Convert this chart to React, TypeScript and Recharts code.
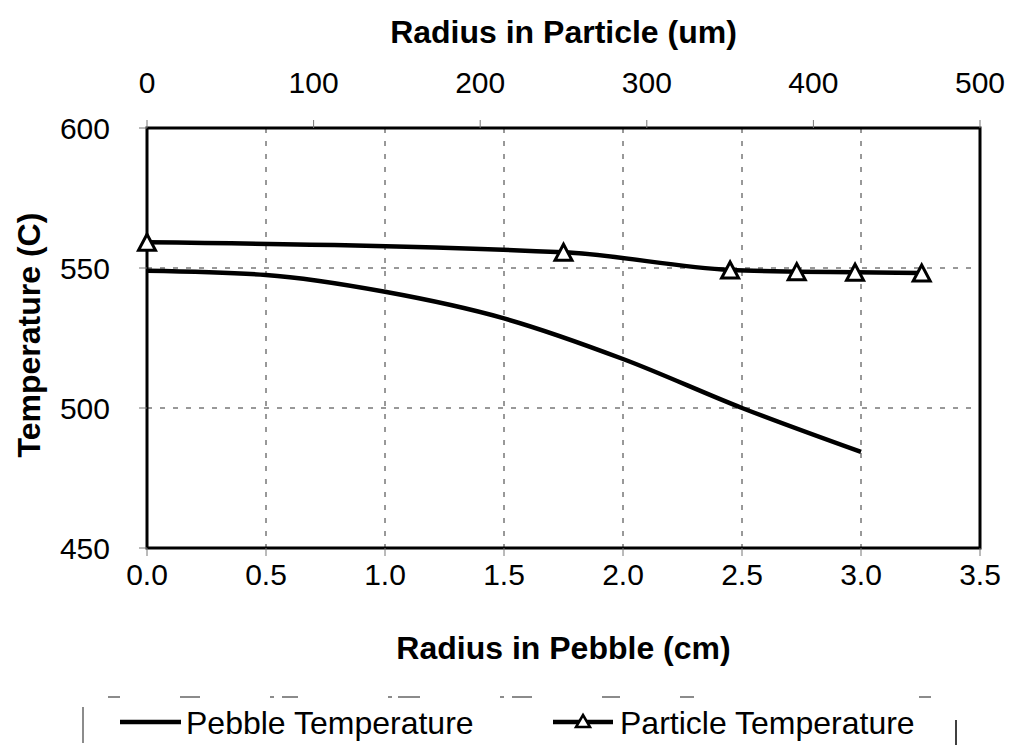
import {
  LineChart, Line, XAxis, YAxis, CartesianGrid, Legend, ReferenceArea,
} from "recharts";

// pebble profile (cm) and particle profile (um)
const pebbleRadius = [0, 0.5, 1.0, 1.5, 2.0, 2.5, 3.0];
const pebbleTemp = [549, 547.5, 541.5, 532, 517.5, 500, 484.3];
const particleRadius = [0, 250, 350, 390, 425, 465];
const particleTemp = [559.2, 555.6, 549.3, 548.7, 548.5, 548.2];

const pebbleTicks = [0, 0.5, 1.0, 1.5, 2.0, 2.5, 3.0, 3.5];
const particleTicks = [0, 100, 200, 300, 400, 500];
const tempTicks = [450, 500, 550, 600];

const pebbleData = pebbleRadius.map((r, i) => ({ r, temp: pebbleTemp[i] }));
const particleData = particleRadius.map((r, i) => ({ r, temp: particleTemp[i] }));

const FONT = '"Liberation Sans", Arial, sans-serif';
const tick = { fontSize: 30, fill: "#000", fontFamily: FONT };
const tickLine = { stroke: "#777", strokeWidth: 1 };

const renderTriangle = (props: any) => {
  const { cx, cy, index } = props;
  return (
    <path
      key={`tri-${index}`}
      d={`M${cx},${cy - 8} L${cx + 8.5},${cy + 8} L${cx - 8.5},${cy + 8} Z`}
      fill="#fff"
      stroke="#000"
      strokeWidth={3}
      strokeLinejoin="miter"
    />
  );
};

const topTitle = (props: any) => {
  const { viewBox } = props;
  return (
    <text x={viewBox.x + viewBox.width / 2} y={43} textAnchor="middle"
      fontSize={32} fontWeight="bold" fontFamily={FONT} fill="#000">
      Radius in Particle (um)
    </text>
  );
};

const bottomTitle = (props: any) => {
  const { viewBox } = props;
  return (
    <text x={viewBox.x + viewBox.width / 2} y={659} textAnchor="middle"
      fontSize={32} fontWeight="bold" fontFamily={FONT} fill="#000">
      Radius in Pebble (cm)
    </text>
  );
};

const leftTitle = (props: any) => {
  const { viewBox } = props;
  const cy = viewBox.y + viewBox.height / 2 - 3;
  return (
    <text x={40} y={cy} transform={`rotate(-90 40 ${cy})`} textAnchor="middle"
      fontSize={32} fontWeight="bold" fontFamily={FONT} fill="#000">
      Temperature (C)
    </text>
  );
};

// legend box: only the side edges and a broken top edge survive
const renderLegend = () => (
  <svg width={1011} height={60} style={{ display: "block" }}>
    <line x1={83} y1={12} x2={940} y2={12} stroke="#666" strokeWidth={1.5}
      strokeDasharray="0 25 12 60 20 70 4 8 16 90 4 6 22 80 4 8 20 70 18 60 14 200" />
    <line x1={83} y1={22} x2={83} y2={58} stroke="#666" strokeWidth={1.5} />
    <line x1={956} y1={35} x2={956} y2={60} stroke="#000" strokeWidth={1.5} />
    <line x1={120} y1={37} x2={181} y2={37} stroke="#000" strokeWidth={4.5} />
    <text x={186} y={48.5} fontSize={32} fontFamily={FONT} fill="#000">Pebble Temperature</text>
    <line x1={553} y1={37} x2={613} y2={37} stroke="#000" strokeWidth={4.5} />
    <path d="M583,30 L590,42 L576,42 Z" fill="#fff" stroke="#000" strokeWidth={2.5} />
    <text x={620} y={48.5} fontSize={32} fontFamily={FONT} fill="#000">Particle Temperature</text>
  </svg>
);

export default function App() {
  return (
    <div style={{ position: "absolute", left: 0, top: 0, width: 1011, height: 745, background: "#fff" }}>
      <LineChart width={1011} height={745} margin={{ top: 0, right: 31, bottom: 0, left: 0 }}>
        <CartesianGrid xAxisId="pebble" yAxisId="temp" stroke="#333" strokeWidth={1}
          strokeDasharray="5 8" />
        <XAxis xAxisId="pebble" dataKey="r" type="number" orientation="bottom"
          domain={[0, 3.5]} ticks={pebbleTicks} tickFormatter={(v) => v.toFixed(1)}
          height={137} axisLine={false} tickLine={tickLine} tickSize={8} tickMargin={8}
          tick={tick} interval={0} label={bottomTitle} />
        <XAxis xAxisId="particle" dataKey="r" type="number" orientation="top"
          domain={[0, 500]} ticks={particleTicks}
          height={128} axisLine={false} tickLine={tickLine} tickSize={8} tickMargin={27}
          tick={tick} interval={0} label={topTitle} />
        <YAxis yAxisId="temp" type="number" domain={[450, 600]} ticks={tempTicks}
          width={147} axisLine={false} tickLine={tickLine} tickSize={8} tickMargin={29}
          tick={tick} interval={0} label={leftTitle} />
        <ReferenceArea xAxisId="pebble" yAxisId="temp" x1={0} x2={3.5} y1={450} y2={600}
          fill="none" stroke="#000" strokeWidth={3} ifOverflow="visible" />
        <Line xAxisId="pebble" yAxisId="temp" data={pebbleData} dataKey="temp"
          name="Pebble Temperature" type="monotone" stroke="#000" strokeWidth={4.5}
          dot={false} isAnimationActive={false} />
        <Line xAxisId="particle" yAxisId="temp" data={particleData} dataKey="temp"
          name="Particle Temperature" type="monotone" stroke="#000" strokeWidth={4.5}
          dot={renderTriangle} isAnimationActive={false} />
        <Legend verticalAlign="bottom" align="left" height={60} content={renderLegend}
          wrapperStyle={{ left: 0, bottom: 0, width: 1011, height: 60 }} />
      </LineChart>
    </div>
  );
}
